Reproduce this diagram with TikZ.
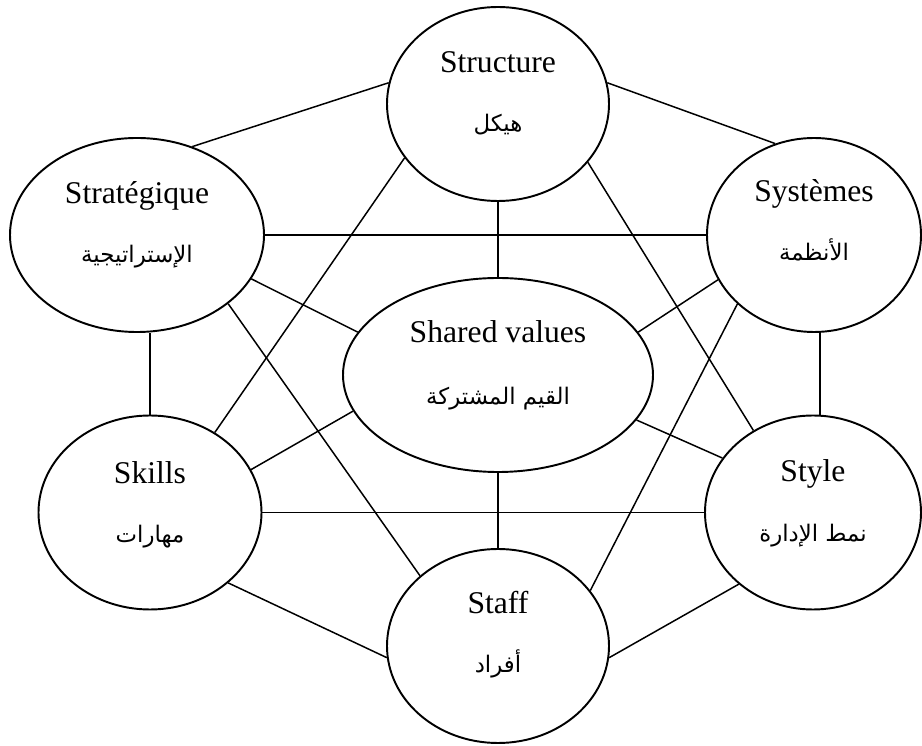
\documentclass[tikz,border=0pt]{standalone}
\usepackage{fontspec}
\setmainfont{Liberation Serif}
\newfontfamily\arabicfont[Script=Arabic]{DejaVu Sans}
\TeXXeTstate=1
\usepackage{tikz}
\usetikzlibrary{
  positioning,
  shapes.geometric
}

\begin{document}
\begin{tikzpicture}[
  sbox/.style={
    ellipse,
    draw=black,
    line width=1.1pt,
    minimum width=#1,
    minimum height=3.88cm,
    inner sep=0pt,
  },
  sbox/.default=4.44cm,
  entext/.style={
    anchor=base,
    font=\fontsize{18}{22}\selectfont,
  },
  artext/.style={
    anchor=base,
    font=\fontsize{13}{18}\arabicfont,
  },
  link/.style={line width=0.85pt, black},
]
\useasboundingbox (0, 0) rectangle (18.44, 14.92);

% ── Top: Structure ──
\node[sbox] (structure) at (9.96, 12.84) {};
\node[entext] (structureEn) at ([yshift=6.2mm]structure.center) {Structure};
\node[artext] (structureAr) at ([yshift=-5.6mm]structure.center) {\beginR هيكل\endR};

% ── Left / right upper: Strategy, Systems ──
\node[sbox=5.08cm] (strat) at (2.74, 10.22) {};
\node[entext] (stratEn) at ([yshift=6.2mm]strat.center) {Stratégique};
\node[artext] (stratAr) at ([yshift=-5.6mm]strat.center) {\beginR الإستراتيجية\endR};

\node[sbox=4.28cm] (sys) at (16.28, 10.22) {};
\node[entext] (sysEn) at ([yshift=6.6mm]sys.center) {Systèmes};
\node[artext] (sysAr) at ([yshift=-5.2mm]sys.center) {\beginR الأنظمة\endR};

% ── Centre: Shared values ──
\node[sbox=6.2cm] (shared) at (9.96, 7.42) {};
\node[entext] (sharedEn) at ([yshift=6.4mm]shared.center) {Shared values};
\node[artext] (sharedAr) at ([yshift=-6mm]shared.center) {\beginR القيم المشتركة\endR};

% ── Left / right lower: Skills, Style ──
\node[sbox=4.46cm] (skills) at (3.0, 4.67) {};
\node[entext] (skillsEn) at ([yshift=5.8mm]skills.center) {Skills};
\node[artext] (skillsAr) at ([yshift=-6mm]skills.center) {\beginR مهارات\endR};

\node[sbox=4.32cm] (style) at (16.26, 4.67) {};
\node[entext] (styleEn) at ([yshift=6.2mm]style.center) {Style};
\node[artext] (styleAr) at ([yshift=-5.8mm]style.center) {\beginR نمط الإدارة\endR};

% ── Bottom: Staff ──
\node[sbox] (staff) at (9.96, 2.0) {};
\node[entext] (staffEn) at ([yshift=6.4mm]staff.center) {Staff};
\node[artext] (staffAr) at ([yshift=-5.4mm]staff.center) {\beginR أفراد\endR};

% ── Outer ring ──
\draw[link] (strat.58) -- (structure.169);
\draw[link] (structure.11) -- (sys.113);
\draw[link] (sys.south) ++(1.2mm, 0) coordinate (sysS) -- (sysS |- style.north);
\draw[link] (style.224) -- (staff.-6);
\draw[link] (staff.186) -- (skills.-42);
\draw[link] (skills.north) -- (skills.north |- strat.south);

% ── Horizontals and verticals ──
\draw[link] (strat.east) -- (sys.west);
\draw[link] (skills.east) -- (style.west);
\draw[link] (structure.south) -- (shared.north);
\draw[link] (shared.south) -- (staff.north);

% ── Spokes to shared values ──
\draw[link] (strat.-21) -- (shared.163);
\draw[link] (sys.205) -- (shared.17);
\draw[link] (skills.23) -- (shared.194);
\draw[link] (style.149) -- (shared.-18);

% ── Long diagonals ──
\draw[link] (strat.-37) -- (staff.138);
\draw[link] (structure.210) -- (skills.51);
\draw[link] (structure.-33) -- (style.126);
\draw[link] (sys.222) -- (staff.31);

\end{tikzpicture}
\end{document}
